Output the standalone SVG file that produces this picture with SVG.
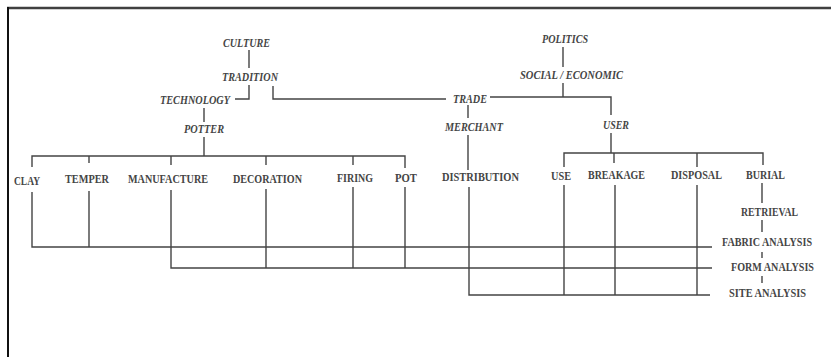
<svg xmlns="http://www.w3.org/2000/svg" width="831" height="357" viewBox="0 0 831 357">
<style>
.t{font-family:"Liberation Serif","Times New Roman",serif;font-size:12.5px;font-weight:bold;fill:#454545}
.i{font-style:italic}
.c{fill:none;stroke:#444;stroke-width:1.4}
</style>
<rect width="831" height="357" fill="#fff"/>
<g id="border">
<line x1="7" y1="8" x2="831" y2="8" stroke="#404040" stroke-width="2.5"/>
<line x1="8" y1="7" x2="8" y2="357" stroke="#111" stroke-width="2"/>
</g>
<g id="connectors" class="c">
<path d="M249 50V68"/>
<path d="M249 85V99H235"/>
<path d="M273 86V99H446"/>
<path d="M490 97H611V115"/>
<path d="M563 47V67"/>
<path d="M563 83V97"/>
<path d="M468 105V118"/>
<path d="M468 135V170"/>
<path d="M611 133V153"/>
<path d="M564 167V153H763V165"/>
<path d="M614 153V163"/>
<path d="M697 153V167"/>
<path d="M204 108V122"/>
<path d="M204 137V156"/>
<path d="M32 167V156H405V168"/>
<path d="M89 156V163"/>
<path d="M171 156V165"/>
<path d="M266 156V165"/>
<path d="M353 156V165"/>
<path d="M762 183V203"/>
<path d="M762 220V232"/>
<path d="M762 252V258"/>
<path d="M762 276V283"/>
<path d="M32 192V247H712"/>
<path d="M89 191V247"/>
<path d="M171 190V268H712"/>
<path d="M266 189V268"/>
<path d="M353 187V268"/>
<path d="M405 187V268"/>
<path d="M469 187V295H710"/>
<path d="M564 185V295"/>
<path d="M615 185V295"/>
<path d="M697 185V295"/>
</g>
<g id="culture"><text class="t i" x="223" y="47" textLength="47" lengthAdjust="spacingAndGlyphs">CULTURE</text></g>
<g id="tradition"><text class="t i" x="222" y="81" textLength="56" lengthAdjust="spacingAndGlyphs">TRADITION</text></g>
<g id="technology"><text class="t i" x="160" y="104" textLength="70" lengthAdjust="spacingAndGlyphs">TECHNOLOGY</text></g>
<g id="potter"><text class="t i" x="184" y="133" textLength="40" lengthAdjust="spacingAndGlyphs">POTTER</text></g>
<g id="politics"><text class="t i" x="542" y="43" textLength="46" lengthAdjust="spacingAndGlyphs">POLITICS</text></g>
<g id="social"><text class="t i" x="520" y="79" textLength="103" lengthAdjust="spacingAndGlyphs">SOCIAL / ECONOMIC</text></g>
<g id="trade"><text class="t i" x="453" y="103" textLength="34" lengthAdjust="spacingAndGlyphs">TRADE</text></g>
<g id="merchant"><text class="t i" x="445" y="131" textLength="58" lengthAdjust="spacingAndGlyphs">MERCHANT</text></g>
<g id="user"><text class="t i" x="603" y="129" textLength="26" lengthAdjust="spacingAndGlyphs">USER</text></g>
<g id="clay"><text class="t" x="14" y="185" textLength="26" lengthAdjust="spacingAndGlyphs">CLAY</text></g>
<g id="temper"><text class="t" x="65" y="183" textLength="44" lengthAdjust="spacingAndGlyphs">TEMPER</text></g>
<g id="manufacture"><text class="t" x="128" y="183" textLength="80" lengthAdjust="spacingAndGlyphs">MANUFACTURE</text></g>
<g id="decoration"><text class="t" x="233" y="183" textLength="69" lengthAdjust="spacingAndGlyphs">DECORATION</text></g>
<g id="firing"><text class="t" x="337" y="182" textLength="36" lengthAdjust="spacingAndGlyphs">FIRING</text></g>
<g id="pot"><text class="t" x="395" y="182" textLength="22" lengthAdjust="spacingAndGlyphs">POT</text></g>
<g id="distribution"><text class="t" x="442" y="181" textLength="77" lengthAdjust="spacingAndGlyphs">DISTRIBUTION</text></g>
<g id="use"><text class="t" x="551" y="180" textLength="20" lengthAdjust="spacingAndGlyphs">USE</text></g>
<g id="breakage"><text class="t" x="588" y="179" textLength="57" lengthAdjust="spacingAndGlyphs">BREAKAGE</text></g>
<g id="disposal"><text class="t" x="671" y="179" textLength="51" lengthAdjust="spacingAndGlyphs">DISPOSAL</text></g>
<g id="burial"><text class="t" x="746" y="179" textLength="39" lengthAdjust="spacingAndGlyphs">BURIAL</text></g>
<g id="retrieval"><text class="t" x="741" y="216" textLength="57" lengthAdjust="spacingAndGlyphs">RETRIEVAL</text></g>
<g id="fabric"><text class="t" transform="translate(722 246) scale(0.8 1)" x="0" y="0" textLength="112.5" lengthAdjust="spacingAndGlyphs">FABRIC ANALYSIS</text></g>
<g id="form"><text class="t" transform="translate(731 271) scale(0.8 1)" x="0" y="0" textLength="103.75" lengthAdjust="spacingAndGlyphs">FORM ANALYSIS</text></g>
<g id="site"><text class="t" x="729" y="297" textLength="77" lengthAdjust="spacingAndGlyphs">SITE ANALYSIS</text></g>
</svg>
